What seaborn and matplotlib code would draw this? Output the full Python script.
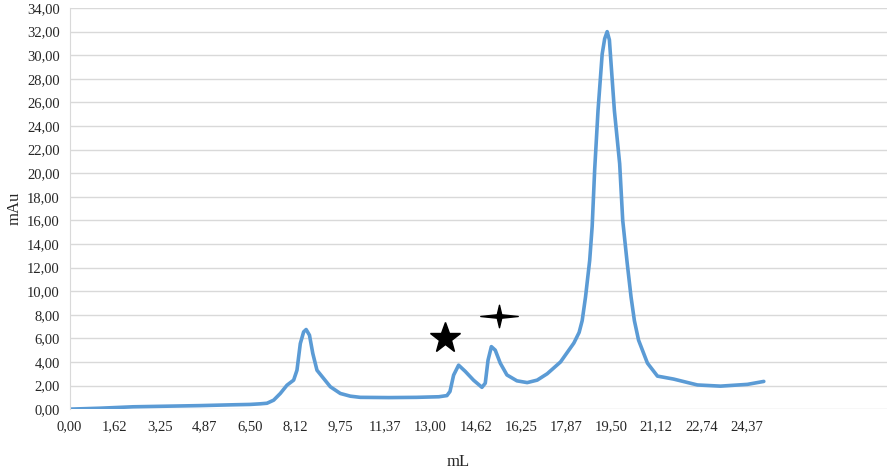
import numpy as np
import pandas as pd
import matplotlib
matplotlib.use("Agg")
import matplotlib.pyplot as plt
from matplotlib.path import Path
import seaborn as sns

# chromatogram (mL, mAu)
volume = [0, 1.1, 2.3, 3.5, 4.7, 5.9, 6.5, 6.86, 7.11, 7.35,
          7.59, 7.83, 8.07, 8.19, 8.31, 8.43, 8.52, 8.64, 8.76, 8.91,
          9.15, 9.39, 9.75, 10.11, 10.47, 11.5, 12.5, 13.3, 13.59, 13.7,
          13.83, 14.01, 14.25, 14.55, 14.85, 14.97, 15.07, 15.19, 15.33, 15.51,
          15.75, 16.11, 16.48, 16.84, 17.2, 17.68, 18.16, 18.35, 18.46, 18.58,
          18.73, 18.82, 18.91, 19.03, 19.18, 19.27, 19.36, 19.44, 19.50, 19.62,
          19.81, 19.92, 20.08, 20.22, 20.34, 20.49, 20.81, 21.17, 21.75, 22.61,
          23.44, 24.41, 25.0]
absorbance = [0.0, 0.08, 0.2, 0.25, 0.3, 0.37, 0.4, 0.45, 0.5, 0.76,
              1.33, 2.03, 2.46, 3.3, 5.56, 6.55, 6.75, 6.27, 4.72, 3.3,
              2.6, 1.9, 1.33, 1.1, 1.0, 0.98, 1.0, 1.05, 1.15, 1.5,
              2.88, 3.73, 3.2, 2.45, 1.85, 2.2, 4.15, 5.3, 5.0, 3.9,
              2.9, 2.4, 2.25, 2.46, 3.0, 4.0, 5.6, 6.5, 7.5, 9.5,
              12.6, 15.5, 20.3, 25.3, 30.1, 31.4, 32.0, 31.3, 29.3, 25.3,
              20.8, 16.0, 12.4, 9.5, 7.5, 5.85, 3.9, 2.8, 2.55, 2.05,
              1.95, 2.1, 2.35]

x_tick_labels = ["0,00", "1,62", "3,25", "4,87", "6,50", "8,12", "9,75", "11,37",
                 "13,00", "14,62", "16,25", "17,87", "19,50", "21,12", "22,74", "24,37"]
y_tick_values = list(range(0, 35, 2))

# peak annotations
star_pos = (13.53, 6.0)
cross_pos = (15.48, 7.9)

df = pd.DataFrame({"mL": volume, "mAu": absorbance})

sns.set_style("white")
plt.rcParams["font.family"] = ["Liberation Serif", "DejaVu Serif"]

fig = plt.figure(figsize=(8.88, 4.73), dpi=100)
ax = fig.add_axes([0.0783, 0.135, 0.921, 0.848])

sns.lineplot(data=df, x="mL", y="mAu", ax=ax, color="#5B9BD5", linewidth=2.6,
             solid_capstyle="round", solid_joinstyle="round", sort=False)

# five-point star and a stretched four-point star
ax.plot(*star_pos, marker="*", markersize=23, color="black", linestyle="none")
four_star = Path([(-1, 0), (-0.12, 0.09), (0, 0.6), (0.12, 0.09), (1, 0),
                  (0.12, -0.09), (0, -0.6), (-0.12, -0.09), (-1, 0)],
                 [Path.MOVETO] + [Path.LINETO] * 7 + [Path.CLOSEPOLY])
ax.plot(*cross_pos, marker=four_star, markersize=27, color="black", linestyle="none")

ax.set_xlim(0, 29.45)
ax.set_ylim(0, 34)
ax.set_xticks([1.625 * i for i in range(len(x_tick_labels))])
ax.set_xticklabels(x_tick_labels)
ax.set_yticks(y_tick_values)
ax.set_yticklabels([f"{v},00" for v in y_tick_values])
ax.tick_params(axis="both", length=0, labelsize=10.5, colors="#262626")
ax.tick_params(axis="x", pad=8)
ax.tick_params(axis="y", pad=7)

ax.grid(axis="y", color="#D9D9D9", linewidth=1)
ax.set_axisbelow(True)
for side in ["top", "right"]:
    ax.spines[side].set_visible(False)
ax.spines["bottom"].set_visible(False)
ax.spines["left"].set_color("#D9D9D9")

ax.set_xlabel("mL", fontsize=12, va="center", color="#262626")
ax.set_ylabel("mAu", fontsize=12, va="center", color="#262626")
ax.xaxis.set_label_coords(0.475, -0.132)
ax.yaxis.set_label_coords(-0.067, 0.5)

fig.savefig("out.png", dpi=100)
